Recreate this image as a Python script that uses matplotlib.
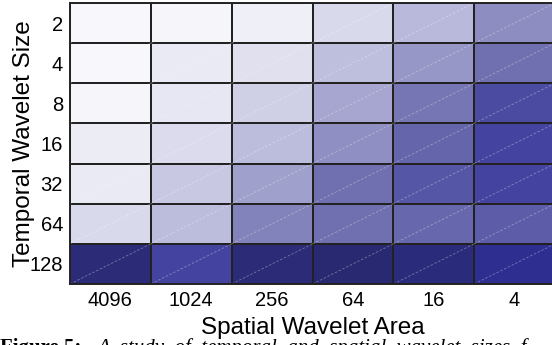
import numpy as np
import matplotlib
matplotlib.use("Agg")
from matplotlib import pyplot as plt
from matplotlib.colors import LinearSegmentedColormap

### DATA ######################################################################

spatial_labels = ["4096", "1024", "256", "64", "16", "4"]
temporal_labels = ["2", "4", "8", "16", "32", "64", "128"]

# shade level of each cell (0 = white, 1 = darkest)
row_2 = [0.02, 0.04, 0.09, 0.23, 0.36, 0.51]
row_4 = [0.02, 0.13, 0.20, 0.34, 0.48, 0.60]
row_8 = [0.04, 0.15, 0.27, 0.43, 0.58, 0.73]
row_16 = [0.11, 0.22, 0.35, 0.50, 0.64, 0.75]
row_32 = [0.13, 0.30, 0.45, 0.60, 0.69, 0.75]
row_64 = [0.23, 0.35, 0.54, 0.60, 0.63, 0.67]
row_128 = [0.93, 0.75, 0.94, 0.98, 0.92, 0.85]

values = np.array([row_2, row_4, row_8, row_16, row_32, row_64, row_128])

### COLORMAP ##################################################################

cmap = LinearSegmentedColormap.from_list("wave", [
    (0.0, "#fbfbfd"),
    (0.2, "#e0e0ef"),
    (0.4, "#b0b0d6"),
    (0.6, "#7070b0"),
    (0.75, "#4545a0"),
    (0.85, "#2e2e90"),
    (0.93, "#2b2b78"),
    (1.0, "#282870"),
])

### PLOT ######################################################################

plt.rcParams['font.family'] = ['Liberation Sans', 'DejaVu Sans']

fig = plt.figure(figsize=(5.52, 3.45), dpi=100)
ax = fig.add_axes([70/552, 1 - 284/345, 485/552, 281/345])

ax.pcolormesh(values, cmap=cmap, vmin=0, vmax=1,
              edgecolors="#222222", linewidth=1.4)

# faint diagonal seams in every cell
nr, nc = values.shape
for ii in range(nr):
    for jj in range(nc):
        ax.plot([jj, jj + 1], [ii + 1, ii], color="white", alpha=0.35,
                lw=0.6, ls=(0, (3, 2)))

ax.set_xlim(0, nc)
ax.set_ylim(nr, 0)
ax.set_xticks(np.arange(nc) + 0.5)
ax.set_xticklabels(spatial_labels, fontsize=14.5)
ax.set_yticks(np.arange(nr) + 0.5)
ax.set_yticklabels(temporal_labels, fontsize=14.5)
ax.tick_params(length=0, pad=5)
for s in ax.spines.values():
    s.set_color("#222222")
    s.set_linewidth(1.4)

ax.set_xlabel("Spatial Wavelet Area", fontsize=17.5, labelpad=5)
ax.set_ylabel("Temporal Wavelet Size", fontsize=17.5, labelpad=-4)

# caption, cut off by the bottom edge as in the source page
fig.text(0.0, -0.022, "Figure 5:", fontsize=15, family="Liberation Serif",
         weight="bold", va="baseline")
fig.text(97/552, -0.022, "A  study  of  temporal  and  spatial  wavelet  sizes  f",
         fontsize=15, family="Liberation Serif", style="italic", va="baseline")

fig.savefig("out.png", dpi=100)
